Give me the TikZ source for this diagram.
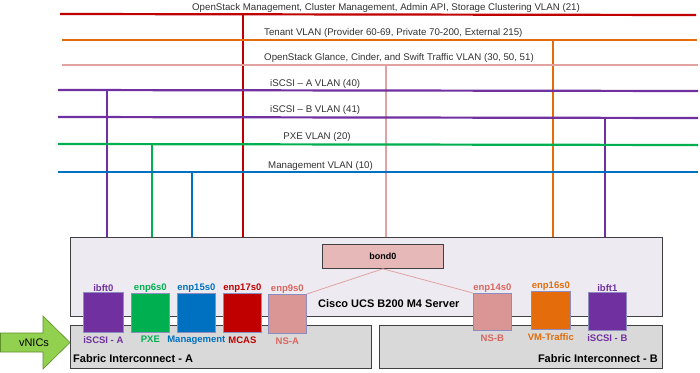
\documentclass[tikz,border=0pt]{standalone}
\usepackage{fontspec}
\setmainfont{Liberation Sans}
\usetikzlibrary{calc}

\definecolor{vred}{HTML}{C00000}
\definecolor{vorange}{HTML}{E46C0A}
\definecolor{vpink}{HTML}{E2A2A1}
\definecolor{vpurple}{HTML}{7030A0}
\definecolor{vgreen}{HTML}{00B050}
\definecolor{vblue}{HTML}{0070C0}
\definecolor{nsfill}{HTML}{DA9694}
\definecolor{nstext}{HTML}{D9665F}
\definecolor{srvfill}{HTML}{EDEBF1}
\definecolor{fifill}{HTML}{D9D9D9}
\definecolor{bondfill}{HTML}{E6B9B8}
\definecolor{vnicfill}{HTML}{92D050}
\definecolor{vnicedge}{HTML}{5F8F2A}

\tikzset{
  vlan/.style={line width=2.2pt},
  drop/.style={line width=2pt},
  vlabel/.style={font=\fontsize{9.7}{11}\selectfont, text=black!80, inner sep=0pt},
  chassis/.style={draw=black!75, line width=0.8pt, anchor=north west, inner sep=0pt},
  boxlbl/.style={font=\bfseries\fontsize{11}{13}\selectfont, inner sep=0pt},
  nic/.style={draw=black!55!blue!45, line width=0.7pt, anchor=north west,
    minimum width=38pt, minimum height=39pt, inner sep=0pt, label distance=2.5pt},
  niclbl/.style={font=\bfseries\fontsize{9.5}{11}\selectfont, inner sep=0pt},
  dnlbl/.style={niclbl, yshift=-3.5pt},
  nsline/.style={draw=vpink, line width=0.8pt},
}

\begin{document}
\begin{tikzpicture}[x=1pt, y=-1pt, line cap=butt]
  \fill[white] (0,0) rectangle (700,372);
  \useasboundingbox (0,0) rectangle (700,372);

  % Server and the two fabric interconnects.
  \node[chassis, fill=srvfill, minimum width=592pt, minimum height=79pt] (ucs) at (70,237) {};
  \node[chassis, fill=fifill, minimum width=301pt, minimum height=43pt] (fiA) at (70,325) {};
  \node[chassis, fill=fifill, minimum width=283pt, minimum height=43pt] (fiB) at (379,325) {};
  \node[boxlbl, anchor=base west] (ucslbl) at (318,307) {Cisco UCS B200 M4 Server};
  \node[boxlbl, anchor=base west] (fiAlbl) at (73,362) {Fabric Interconnect - A};
  \node[boxlbl, anchor=base east] (fiBlbl) at (658,362) {Fabric Interconnect - B};

  % Bond on top of the two NS links.
  \node[chassis, fill=bondfill, minimum width=121pt, minimum height=24pt,
    font=\bfseries\fontsize{9}{11}\selectfont] (bond) at (322,244) {bond0};

  % vNICs, fabric A side.
  \node[nic, fill=vpurple, minimum width=40pt, minimum height=40pt,
    label={[niclbl, text=vpurple]above:ibft0},
    label={[dnlbl, text=vpurple]below:iSCSI - A}] (ibftA) at (83,292) {};
  \node[nic, fill=vgreen,
    label={[niclbl, text=vgreen]above:enp6s0},
    label={[dnlbl, text=vgreen]below:PXE}] (pxe) at (131,293) {};
  \node[nic, fill=vblue,
    label={[niclbl, text=vblue]above:enp15s0},
    label={[dnlbl, text=vblue]below:Management}] (mgmt) at (177,293) {};
  \node[nic, fill=vred,
    label={[niclbl, text=vred]above:enp17s0},
    label={[dnlbl, text=vred]below:MCAS}] (mcas) at (223,293) {};
  \node[nic, fill=nsfill,
    label={[niclbl, text=nstext]above:enp9s0},
    label={[dnlbl, text=nstext]below:NS-A}] (nsA) at (268,294) {};

  % vNICs, fabric B side.
  \node[nic, fill=nsfill, minimum height=37pt,
    label={[niclbl, text=nstext]above:enp14s0},
    label={[dnlbl, text=nstext]below:NS-B}] (nsB) at (473,293) {};
  \node[nic, fill=vorange, minimum width=39pt, minimum height=38pt,
    label={[niclbl, text=vorange]above:enp16s0},
    label={[dnlbl, text=vorange]below:VM-Traffic}] (vmtr) at (531,291) {};
  \node[nic, fill=vpurple, minimum height=38pt,
    label={[niclbl, text=vpurple]above:ibft1},
    label={[dnlbl, text=vpurple]below:iSCSI - B}] (ibftB) at (588,292) {};

  \draw[nsline] (bond.south) -- (nsA.north east);
  \draw[nsline] (bond.south) -- (nsB.north west);

  % Drops from the buses down to the server.
  \coordinate (dA) at (107,90);
  \coordinate (dpxe) at (152,144);
  \coordinate (dmg) at (192,172);
  \coordinate (dmc) at (243,14);
  \coordinate (dns) at (386,65);
  \coordinate (dvm) at (553,40);
  \coordinate (dB) at (605,117);
  \draw[drop, vpurple] (dA)   -- (dA |- ucs.north);
  \draw[drop, vgreen]  (dpxe) -- (dpxe |- ucs.north);
  \draw[drop, vblue]   (dmg)  -- (dmg |- ucs.north);
  \draw[drop, vred, line width=2.4pt] (dmc) -- (dmc |- ucs.north);
  \draw[drop, vpink]   (dns)  -- (dns |- ucs.north);
  \draw[drop, vorange] (dvm)  -- (dvm |- ucs.north);
  \draw[drop, vpurple] (dB)   -- (dB |- ucs.north);

  % The VLAN buses, top to bottom.
  \coordinate (v21w) at (60,14);  \coordinate (v21e) at (696,15);
  \coordinate (tenw) at (62,40);  \coordinate (tene) at (697,40);
  \coordinate (glw)  at (62,65);  \coordinate (gle)  at (698,65);
  \coordinate (v40w) at (58,90);  \coordinate (v40e) at (698,91);
  \coordinate (v41w) at (58,117); \coordinate (v41e) at (698,118);
  \coordinate (v20w) at (58,144); \coordinate (v20e) at (698,145);
  \coordinate (v10w) at (58,172); \coordinate (v10e) at (698,172);
  \draw[vlan, vred]    (v21w) -- (v21e);
  \draw[vlan, vorange] (tenw) -- (tene);
  \draw[vlan, vpink]   (glw)  -- (gle);
  \draw[vlan, vpurple] (v40w) -- (v40e);
  \draw[vlan, vpurple] (v41w) -- (v41e);
  \draw[vlan, vgreen]  (v20w) -- (v20e);
  \draw[vlan, vblue]   (v10w) -- (v10e);

  \node[vlabel, anchor=base] (l21) at (386,10)
    {OpenStack Management, Cluster Management, Admin API, Storage Clustering VLAN (21)};
  \node[vlabel, anchor=base west] (lten) at (264,35)
    {Tenant VLAN (Provider 60-69, Private 70-200, External 215)};
  \node[vlabel, anchor=base west] (lgl) at (264,60)
    {OpenStack Glance, Cinder, and Swift Traffic VLAN (30, 50, 51)};
  \node[vlabel, anchor=base west] (l40) at (270,86) {iSCSI – A VLAN (40)};
  \node[vlabel, anchor=base west] (l41) at (270,112) {iSCSI – B VLAN (41)};
  \node[vlabel, anchor=base] (l20) at (317,139) {PXE VLAN (20)};
  \node[vlabel, anchor=base west] (l10) at (268,168) {Management VLAN (10)};

  % Arrow into fabric A.
  \draw[fill=vnicfill, draw=vnicedge, line width=0.6pt]
    (0.5,333) -- (43,333) -- (43,316) -- (70,342.5) -- (43,369) -- (43,352) -- (0.5,352) -- cycle;
  \node[font=\fontsize{11}{13}\selectfont, inner sep=0pt] (vnics) at (34,342.5) {vNICs};
\end{tikzpicture}
\end{document}
